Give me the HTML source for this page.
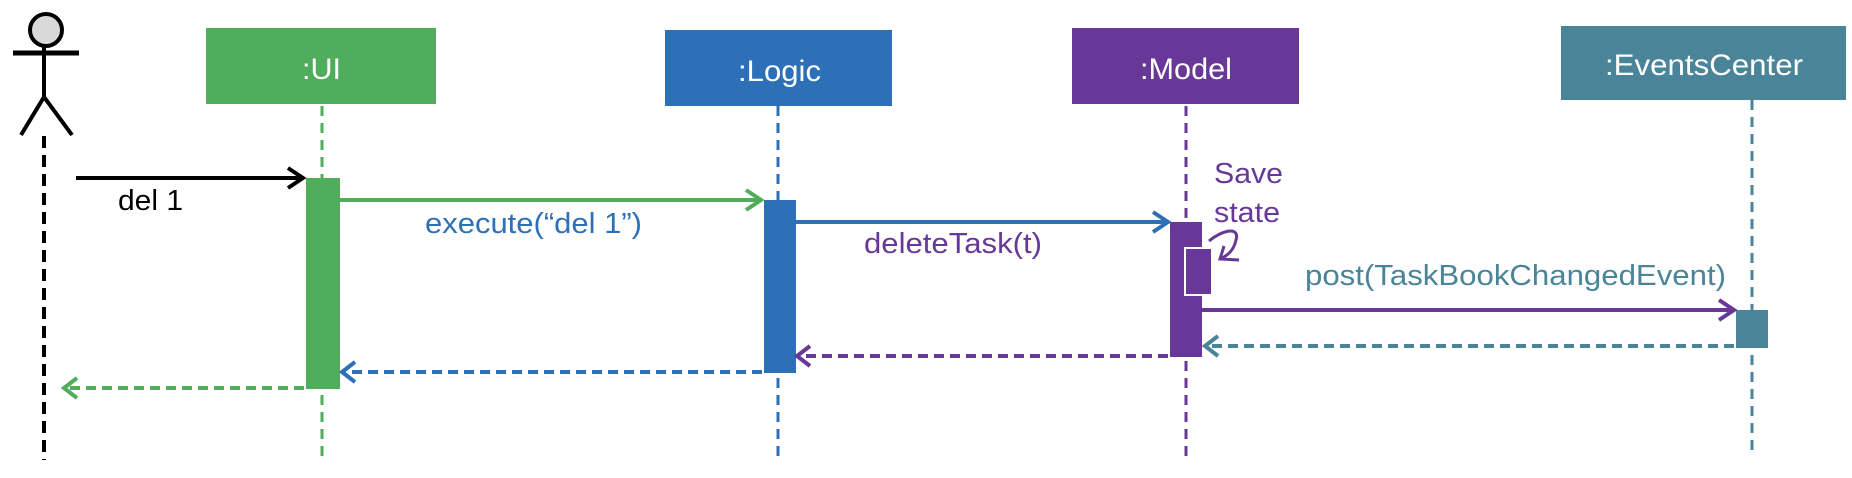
<!DOCTYPE html>
<html><head><meta charset="utf-8"><style>html,body{margin:0;padding:0;background:#fff;}svg{display:block}</style></head>
<body>
<svg width="1852" height="478" viewBox="0 0 1852 478" xmlns="http://www.w3.org/2000/svg" font-family="Liberation Sans, Arial, sans-serif">
<!-- actor -->
<circle cx="46" cy="30" r="16" fill="#d9d9d9" stroke="#000" stroke-width="4"/>
<line x1="13" y1="53" x2="79" y2="53" stroke="#000" stroke-width="5"/>
<line x1="44" y1="46" x2="44" y2="97" stroke="#000" stroke-width="4"/>
<polyline points="21,135 44,97 72,135" fill="none" stroke="#000" stroke-width="4"/>
<line x1="44" y1="136" x2="44" y2="460" stroke="#000" stroke-width="4" stroke-dasharray="12,7"/>

<!-- boxes -->
<rect x="206" y="28" width="230" height="76" fill="#4FAD5B"/>
<text x="302" y="79" fill="#fff" font-size="30" textLength="39" lengthAdjust="spacingAndGlyphs">:UI</text>
<rect x="665" y="30" width="227" height="76" fill="#2E70B8"/>
<text x="738" y="81" fill="#fff" font-size="30" textLength="83" lengthAdjust="spacingAndGlyphs">:Logic</text>
<rect x="1072" y="28" width="227" height="76" fill="#673897"/>
<text x="1140" y="79" fill="#fff" font-size="30" textLength="92" lengthAdjust="spacingAndGlyphs">:Model</text>
<rect x="1561" y="26" width="285" height="74" fill="#4A8498"/>
<text x="1605" y="75" fill="#fff" font-size="30" textLength="198" lengthAdjust="spacingAndGlyphs">:EventsCenter</text>

<!-- lifelines -->
<line x1="322" y1="106" x2="322" y2="460" stroke="#4FAD5B" stroke-width="3" stroke-dasharray="10,7"/>
<line x1="778" y1="106" x2="778" y2="460" stroke="#2E70B8" stroke-width="3" stroke-dasharray="10,7"/>
<line x1="1186" y1="106" x2="1186" y2="460" stroke="#673897" stroke-width="3" stroke-dasharray="10,7"/>
<line x1="1752" y1="100" x2="1752" y2="454" stroke="#4A8498" stroke-width="3" stroke-dasharray="10,7"/>

<!-- activations -->
<rect x="306" y="178" width="34" height="211" fill="#4FAD5B"/>
<rect x="764" y="200" width="32" height="173" fill="#2E70B8"/>
<rect x="1170" y="222" width="32" height="135" fill="#673897"/>
<rect x="1185" y="248" width="27" height="47" fill="#673897" stroke="#fff" stroke-width="2"/>
<rect x="1736" y="310" width="32" height="38" fill="#4A8498"/>

<!-- messages -->
<line x1="76" y1="178" x2="302" y2="178" stroke="#000" stroke-width="4"/>
<polyline points="288,168 303,178 288,188" fill="none" stroke="#000" stroke-width="4"/>
<text x="118" y="210" font-size="29" textLength="65" lengthAdjust="spacingAndGlyphs">del 1</text>

<line x1="340" y1="200" x2="760" y2="200" stroke="#4FAD5B" stroke-width="4"/>
<polyline points="746,190 761,200 746,210" fill="none" stroke="#4FAD5B" stroke-width="4"/>
<text x="425" y="233" font-size="29" fill="#2E70B8" textLength="217" lengthAdjust="spacingAndGlyphs">execute(“del 1”)</text>

<line x1="796" y1="222" x2="1167" y2="222" stroke="#2E70B8" stroke-width="4"/>
<polyline points="1153,212 1168,222 1153,232" fill="none" stroke="#2E70B8" stroke-width="4"/>
<text x="864" y="253" font-size="29" fill="#673897" textLength="178" lengthAdjust="spacingAndGlyphs">deleteTask(t)</text>

<text x="1214" y="183" font-size="29" fill="#673897" textLength="69" lengthAdjust="spacingAndGlyphs">Save</text>
<text x="1214" y="222" font-size="29" fill="#673897" textLength="66" lengthAdjust="spacingAndGlyphs">state</text>
<path d="M1209,241 C1222,230 1240,226 1236,240 C1234,250 1228,255 1222,258" fill="none" stroke="#673897" stroke-width="3"/>
<polyline points="1224,246 1220,259 1239,260" fill="none" stroke="#673897" stroke-width="3"/>

<text x="1305" y="285" font-size="29" fill="#4A8498" textLength="421" lengthAdjust="spacingAndGlyphs">post(TaskBookChangedEvent)</text>
<line x1="1202" y1="310" x2="1733" y2="310" stroke="#673897" stroke-width="4"/>
<polyline points="1719,300 1734,310 1719,320" fill="none" stroke="#673897" stroke-width="4"/>

<!-- returns -->
<line x1="1734" y1="346" x2="1208" y2="346" stroke="#4A8498" stroke-width="4" stroke-dasharray="10,6"/>
<polyline points="1218,336 1205,346 1218,356" fill="none" stroke="#4A8498" stroke-width="4"/>
<line x1="1168" y1="356" x2="800" y2="356" stroke="#673897" stroke-width="4" stroke-dasharray="10,6"/>
<polyline points="810,346 797,356 810,366" fill="none" stroke="#673897" stroke-width="4"/>
<line x1="762" y1="372" x2="344" y2="372" stroke="#2E70B8" stroke-width="4" stroke-dasharray="10,6"/>
<polyline points="355,362 342,372 355,382" fill="none" stroke="#2E70B8" stroke-width="4"/>
<line x1="304" y1="388" x2="66" y2="388" stroke="#4FAD5B" stroke-width="4" stroke-dasharray="10,6"/>
<polyline points="77,378 64,388 77,398" fill="none" stroke="#4FAD5B" stroke-width="4"/>
</svg>
</body></html>
